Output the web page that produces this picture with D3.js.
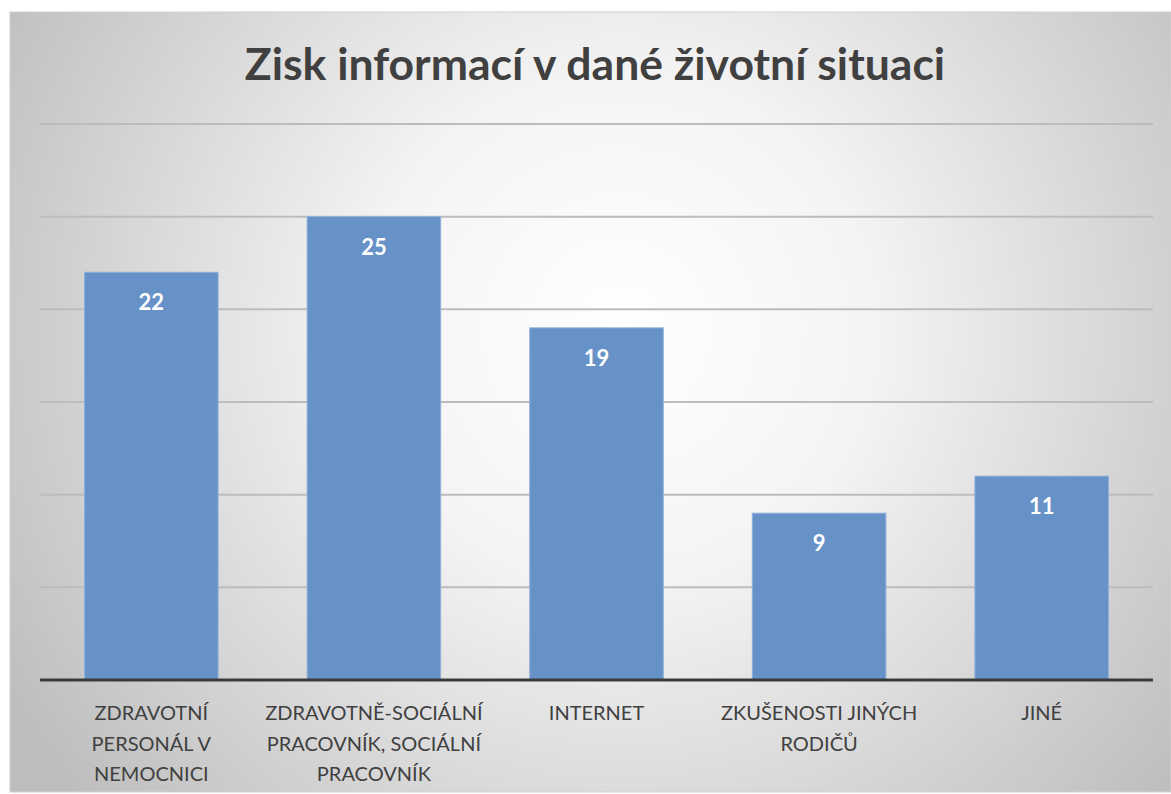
<!DOCTYPE html>
<html>
<head>
<meta charset="utf-8">
<script src="https://cdn.jsdelivr.net/npm/d3@7"></script>
<style>
  body { margin: 0; background: #fff; }
  svg { display: block; }
</style>
</head>
<body>
<script>
// data
const categories = [
  "ZDRAVOTNÍ PERSONÁL V NEMOCNICI",
  "ZDRAVOTNĚ-SOCIÁLNÍ PRACOVNÍK, SOCIÁLNÍ PRACOVNÍK",
  "INTERNET",
  "ZKUŠENOSTI JINÝCH RODIČŮ",
  "JINÉ"
];
const labelLines = [
  ["ZDRAVOTNÍ", "PERSONÁL V", "NEMOCNICI"],
  ["ZDRAVOTNĚ-SOCIÁLNÍ", "PRACOVNÍK, SOCIÁLNÍ", "PRACOVNÍK"],
  ["INTERNET"],
  ["ZKUŠENOSTI JINÝCH", "RODIČŮ"],
  ["JINÉ"]
];
const values = [22, 25, 19, 9, 11];
const gridTicks = [5, 10, 15, 20, 25, 30];
const title = "Zisk informací v dané životní situaci";

(function app() {
  const W = 1171, H = 794;
  const margin = { top: 124, right: 18, bottom: 114, left: 40 };

  const svg = d3.select("body").append("svg")
    .attr("width", W)
    .attr("height", H);

  const defs = svg.append("defs");
  const grad = defs.append("radialGradient")
    .attr("id", "bg")
    .attr("gradientUnits", "userSpaceOnUse")
    .attr("cx", 620).attr("cy", 330).attr("r", 720);
  grad.append("stop").attr("offset", "0").attr("stop-color", "#ffffff");
  grad.append("stop").attr("offset", "0.35").attr("stop-color", "#f4f4f4");
  grad.append("stop").attr("offset", "1").attr("stop-color", "#bdbdbd");

  svg.append("rect")
    .attr("x", 10).attr("y", 12)
    .attr("width", W - 10).attr("height", H - 14)
    .attr("fill", "url(#bg)")
    .attr("stroke", "#d0d0d0")
    .attr("stroke-width", 1);

  svg.append("text")
    .attr("x", 595)
    .attr("y", 80)
    .attr("text-anchor", "middle")
    .attr("font-family", "Lato, 'Open Sans', sans-serif")
    .attr("font-weight", "bold")
    .attr("font-size", 44.5)
    .attr("fill", "#404040")
    .text(title);

  const x = d3.scaleBand()
    .domain(categories)
    .range([margin.left, W - margin.right])
    .paddingInner(0.4)
    .paddingOuter(0.2);

  const y = d3.scaleLinear()
    .domain([0, 30])
    .range([H - margin.bottom, margin.top]);

  const grp = svg.append("g").attr("class", "graph");

  grp.append("g")
    .attr("class", "grid")
    .selectAll("line")
    .data(gridTicks)
    .enter()
    .append("line")
    .attr("x1", margin.left)
    .attr("x2", W - margin.right)
    .attr("y1", d => y(d))
    .attr("y2", d => y(d))
    .attr("stroke", "#bcbcbc")
    .attr("stroke-width", 2);

  grp.append("g")
    .attr("class", "bars")
    .selectAll("rect")
    .data(values)
    .enter()
    .append("rect")
    .attr("x", (d, i) => x(categories[i]))
    .attr("y", d => y(d))
    .attr("width", x.bandwidth())
    .attr("height", d => y(0) - y(d))
    .attr("fill", "#6692c7")
    .attr("stroke", "#8fb0da")
    .attr("stroke-width", 1);

  grp.append("g")
    .attr("class", "values")
    .selectAll("text")
    .data(values)
    .enter()
    .append("text")
    .attr("x", (d, i) => x(categories[i]) + x.bandwidth() / 2)
    .attr("y", d => y(d) + 38)
    .attr("text-anchor", "middle")
    .attr("font-family", "Lato, 'Open Sans', sans-serif")
    .attr("font-weight", "bold")
    .attr("font-size", 22)
    .attr("fill", "#ffffff")
    .text(d => d);

  // baseline axis
  const xAxis = d3.axisBottom(x).tickSize(0).tickFormat("");
  const ax = grp.append("g")
    .attr("class", "axis x")
    .attr("transform", `translate(0,${y(0)})`)
    .call(xAxis);
  ax.select(".domain")
    .attr("stroke", "#3a3a3a")
    .attr("stroke-width", 3)
    .attr("d", `M${margin.left},0H${W - margin.right}`);

  const labels = grp.append("g").attr("class", "labels")
    .selectAll("text")
    .data(categories)
    .enter()
    .append("text")
    .attr("x", d => x(d) + x.bandwidth() / 2)
    .attr("y", y(0) + 40)
    .attr("text-anchor", "middle")
    .attr("font-family", "Lato, 'Open Sans', sans-serif")
    .attr("font-size", 20)
    .attr("fill", "#404040");

  labels.selectAll("tspan")
    .data((d, i) => labelLines[i])
    .enter()
    .append("tspan")
    .attr("x", function () { return d3.select(this.parentNode).attr("x"); })
    .attr("dy", (d, i) => (i === 0 ? 0 : 30.5))
    .text(d => d);
})();
</script>
</body>
</html>
